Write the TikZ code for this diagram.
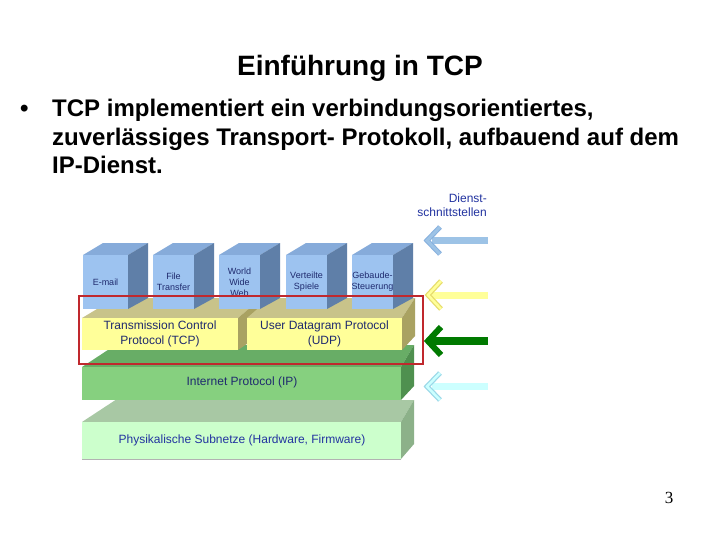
\documentclass[tikz,border=0pt]{standalone}
\usepackage{fontspec}
\setmainfont{Liberation Sans}
\newfontfamily\serifnum{Liberation Serif}
\definecolor{cubeFront}{HTML}{9DC3F0}
\definecolor{cubeTop}{HTML}{86ABDA}
\definecolor{cubeSide}{HTML}{5F7FA8}
\definecolor{yelFront}{HTML}{FFFF99}
\definecolor{yelTop}{HTML}{C8C38A}
\definecolor{yelSide}{HTML}{A9A262}
\definecolor{ipFront}{HTML}{86D07F}
\definecolor{ipTop}{HTML}{68AD66}
\definecolor{ipSide}{HTML}{4F904F}
\definecolor{phFront}{HTML}{CCFFCC}
\definecolor{phTop}{HTML}{A8C8A4}
\definecolor{phSide}{HTML}{8CB189}
\definecolor{redbox}{HTML}{C0282D}
\definecolor{txtNavy}{HTML}{1F2A6E}
\definecolor{txtBlue}{HTML}{2233A0}
\definecolor{arBlue}{HTML}{9DC3E6}
\definecolor{arBlueD}{HTML}{86B0DE}
\definecolor{arYellow}{HTML}{FFFF99}
\definecolor{arYellowD}{HTML}{E6DC6A}
\definecolor{arGreen}{HTML}{007A00}
\definecolor{arCyan}{HTML}{CCFFFF}
\definecolor{arCyanD}{HTML}{9BD8E8}
\tikzset{
  boxtext/.style={align=center, inner sep=0pt, text=txtNavy},
  cubetext/.style={boxtext, font=\fontsize{9}{11}\selectfont},
  layertext/.style={boxtext, font=\fontsize{12}{14.5}\selectfont},
  bodyline/.style={anchor=base west, inner sep=0pt, font=\bfseries\fontsize{24}{28}\selectfont},
}
\begin{document}
\begin{tikzpicture}[x=1pt,y=-1pt]
\useasboundingbox (0,0) rectangle (720,540);
\fill[white] (0,0) rectangle (720,540);

% title
\node[anchor=base, inner sep=0pt, font=\bfseries\fontsize{28}{32}\selectfont] (title) at (360,76) {Einführung in TCP};

% bullet text
\node[anchor=base west, inner sep=0pt, font=\bfseries\fontsize{24}{28}\selectfont] (bullet) at (20,117) {•};
\node[bodyline] (l1) at (52,117) {TCP implementiert ein verbindungsorientiertes,};
\node[bodyline] (l2) at (52,146) {zuverlässiges Transport- Protokoll, aufbauend auf dem};
\node[bodyline] (l3) at (52,174) {IP-Dienst.};

% physical layer
\fill[phTop] (82,422) -- (401,422) -- (414,400) -- (115.5,400) -- cycle;
\fill[phSide] (401,422) -- (414,400) -- (414,444) -- (401,459) -- cycle;
\fill[phFront] (82,422) rectangle (401,459);
\draw[gray!60, line width=0.8] (82,459) -- (401,459);
% IP layer
\fill[ipTop] (82,367) -- (401,367) -- (414,345) -- (115.5,345) -- cycle;
\fill[ipSide] (401,367) -- (414,345) -- (414,386) -- (401,400) -- cycle;
\fill[ipFront] (82,367) rectangle (401,400);
% TCP box
\fill[yelTop] (82,318) -- (238,318) -- (261.5,298) -- (115.5,298) -- cycle;
\fill[yelSide] (238,318) -- (261.5,298) -- (261.5,334) -- (238,350) -- cycle;
\fill[yelFront] (82,318) rectangle (238,350);
% UDP box
\fill[yelTop] (247,318) -- (402,318) -- (415,298) -- (270,298) -- cycle;
\fill[yelSide] (402,318) -- (415,298) -- (415,336) -- (402,350) -- cycle;
\fill[yelFront] (247,318) rectangle (402,350);

% application cubes
\foreach \xa/\xb/\nm/\lab in {83/128/email/{E-mail}, 153/194/ftp/{File\\Transfer}, 219/260/www/{World\\Wide\\Web}, 286/327/games/{Verteilte\\Spiele}, 352/393/home/{Gebaude-\\Steuerung}}{
  \fill[cubeTop] (\xa,255) -- (\xb,255) -- (\xb+20,243) -- (\xa+20,243) -- cycle;
  \fill[cubeSide] (\xb,255) -- (\xb+20,243) -- (\xb+20,298) -- (\xb,309) -- cycle;
  \fill[cubeFront] (\xa,255) rectangle (\xb,309);
  \node[cubetext] (\nm) at ({(\xa+\xb)/2},282) {\lab};
}

% layer labels
\node[layertext] (tcp) at (160,334) {Transmission Control\\Protocol (TCP)};
\node[layertext] (udp) at (324.5,334) {User Datagram Protocol\\(UDP)};
\node[layertext] (ip) at (242,382) {Internet Protocol (IP)};
\node[layertext, text=txtBlue] (phys) at (242,440) {Physikalische Subnetze (Hardware, Firmware)};

% red frame
\draw[redbox, line width=1.8] (79,296) rectangle (423,364);

% Dienstschnittstellen
\node[anchor=east, align=right, inner sep=0pt, text=txtBlue, font=\fontsize{12}{14}\selectfont] (dienst) at (487,205) {Dienst-\\schnittstellen};

% arrows
\fill[arBlue] (432,237) rectangle (488,244);
\draw[arBlueD, line width=5, line join=miter] (440,227) -- (427,240.5) -- (440,254);
\draw[arBlue, line width=3, line join=miter] (440,227) -- (427,240.5) -- (440,254);

\fill[arYellow] (432,291.5) rectangle (488,298.5);
\draw[arYellowD, line width=5, line join=miter] (441,281) -- (428,295) -- (441,309);
\draw[arYellow, line width=2.5, line join=miter] (441,281) -- (428,295) -- (441,309);

\fill[arGreen] (432,337) rectangle (488,345);
\draw[arGreen, line width=6, line join=miter] (441,327) -- (428,341) -- (441,355);

\fill[arCyan] (432,383) rectangle (488,390);
\draw[arCyanD, line width=5, line join=miter] (440,373) -- (427,386.5) -- (440,400);
\draw[arCyan, line width=2.5, line join=miter] (440,373) -- (427,386.5) -- (440,400);

% page number
\node[inner sep=0pt, font=\serifnum\fontsize{17}{17}\selectfont] (pagenum) at (669,498) {3};
\end{tikzpicture}
\end{document}
